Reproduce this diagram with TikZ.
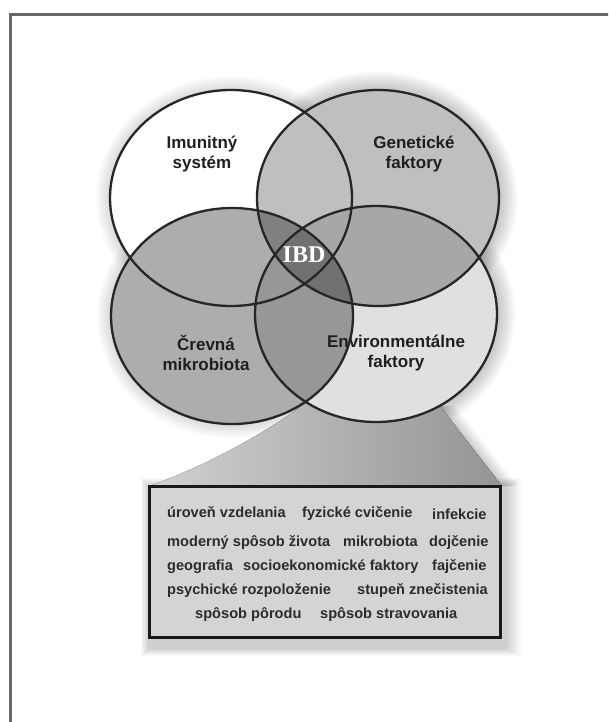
\documentclass[tikz,border=0pt]{standalone}
\usepackage{fontspec}
\setsansfont{Liberation Sans}
\newfontfamily\ibdfont{Liberation Serif}
\definecolor{framegray}{HTML}{686868}
\definecolor{linegray}{HTML}{262626}
\definecolor{textgray}{HTML}{2C2C2C}
\tikzset{
  venn/.style={draw=linegray, line width=2.3pt},
  circlelabel/.style={font=\sffamily\bfseries\fontsize{17}{20}\selectfont, align=center, text=black!88},
  factor/.style={font=\sffamily\bfseries\fontsize{14.6}{17}\selectfont, text=textgray, anchor=base west, inner sep=0pt},
}

\begin{document}
\begin{tikzpicture}[x=1pt, y=-1pt]
\useasboundingbox (0,0) rectangle (608,722);
\clip (0,0) rectangle (608,722);
\fill [white] (0,0) rectangle (608,722);
\draw [framegray, line width=3pt] (10.5,14.5) rectangle (660,780);
%\draw [help lines, step=50] (0,0) grid (608,722);
\coordinate (imun) at (231,198);
\coordinate (gene) at (378,198);
\coordinate (crev) at (232,316);
\coordinate (envi) at (376,314);
% soft shadows
\foreach \i in {1,...,8} {
  \fill [black, fill opacity=0.03, shift={(8,5)}] (gene) ellipse [x radius=119+2.5*\i, y radius=106+2.5*\i];
  \fill [black, fill opacity=0.03, shift={(8,5)}] (envi) ellipse [x radius=119+2.5*\i, y radius=106+2.5*\i];
  \fill [black, fill opacity=0.02, shift={(6,4)}] (imun) ellipse [x radius=119+2*\i, y radius=106+2*\i];
  \fill [black, fill opacity=0.02, shift={(6,4)}] (crev) ellipse [x radius=119+2*\i, y radius=106+2*\i];
  \fill [black, fill opacity=0.025, shift={(2*\i,0)}] (310,400) -- (440,406) -- (502,486) -- (300,486) -- cycle;
  \fill [black, fill opacity=0.025] (149-\i,486-\i) rectangle (505+2*\i,648+\i);
}
\fill [left color=black!18, right color=black!42] (150,486) .. controls (215,462) and (270,430) .. (310,400) -- (440,406) -- (502,486) -- cycle;
% circles
\fill [white] (imun) ellipse [x radius=121, y radius=108];
\fill [white] (gene) ellipse [x radius=121, y radius=108];
\fill [white] (crev) ellipse [x radius=121, y radius=108];
\fill [white] (envi) ellipse [x radius=121, y radius=108];
\fill [black, fill opacity=0.25] (gene) ellipse [x radius=121, y radius=108];
\fill [black, fill opacity=0.32] (crev) ellipse [x radius=121, y radius=108];
\fill [black, fill opacity=0.12] (envi) ellipse [x radius=121, y radius=108];
\draw [venn] (imun) ellipse [x radius=121, y radius=108];
\draw [venn] (gene) ellipse [x radius=121, y radius=108];
\draw [venn] (crev) ellipse [x radius=121, y radius=108];
\draw [venn] (envi) ellipse [x radius=121, y radius=108];
\node (imunlabel) [circlelabel] at (202,154) {Imunitný\\systém};
\node (genelabel) [circlelabel] at (414,154) {Genetické\\faktory};
\node (crevlabel) [circlelabel] at (206,353) {Črevná\\mikrobiota};
\node (envilabel) [circlelabel] at (396,353) {Environmentálne\\faktory};
\node (ibd) [font=\ibdfont\bfseries\fontsize{24}{24}\selectfont, text=white] at (304,255) {IBD};
% factors box
\draw [black!90, fill=black!17, line width=3pt] (149,486) rectangle (500,637);
\node (vzdelanie) [factor] at (167,517.5) {úroveň vzdelania};
\node (cvicenie) [factor] at (302,517.5) {fyzické cvičenie};
\node (infekcie) [factor] at (432,519) {infekcie};
\node (zivot) [factor] at (167,546) {moderný spôsob života};
\node (mikro) [factor] at (343,546) {mikrobiota};
\node (dojcenie) [factor] at (429,546) {dojčenie};
\node (geografia) [factor] at (167,570) {geografia};
\node (socio) [factor] at (243,570) {socioekonomické faktory};
\node (fajcenie) [factor] at (432,570) {fajčenie};
\node (psyche) [factor] at (167,594) {psychické rozpoloženie};
\node (znecistenie) [factor] at (357,594) {stupeň znečistenia};
\node (porod) [factor] at (195,618) {spôsob pôrodu};
\node (strava) [factor] at (320,618) {spôsob stravovania};
\end{tikzpicture}
\end{document}
